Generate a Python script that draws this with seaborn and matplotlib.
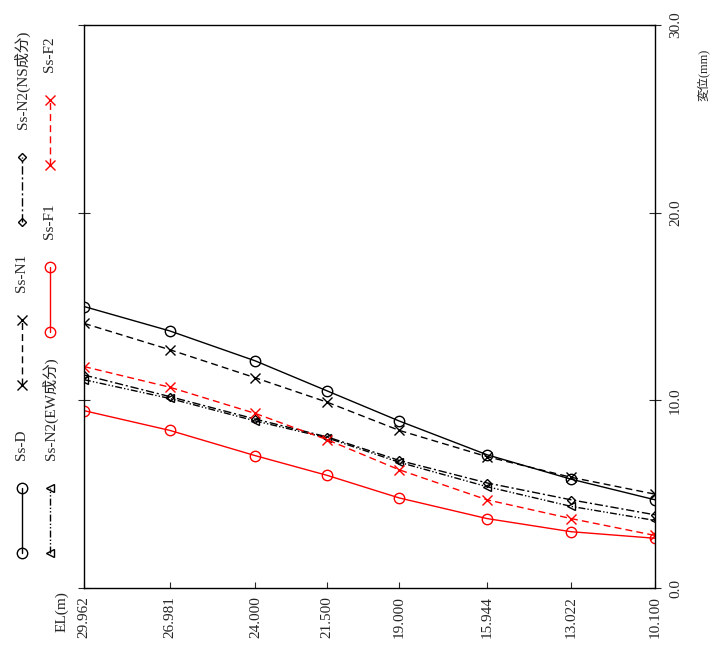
import numpy as np
import pandas as pd
import matplotlib
matplotlib.use("Agg")
import matplotlib.pyplot as plt
import seaborn as sns

# ---- data ----
el = [29.962, 26.981, 24.000, 21.500, 19.000, 15.944, 13.022, 10.100]
el_labels = ["29.962", "26.981", "24.000", "21.500", "19.000", "15.944", "13.022", "10.100"]

ss_d = [15.0, 13.7, 12.1, 10.5, 8.9, 7.1, 5.8, 4.7]
ss_n1 = [14.1, 12.7, 11.2, 9.9, 8.4, 7.0, 5.9, 5.0]
ss_n2_ns = [11.35, 10.2, 9.0, 8.05, 6.8, 5.6, 4.7, 3.9]
ss_n2_ew = [11.1, 10.1, 8.9, 8.0, 6.7, 5.4, 4.35, 3.6]
ss_f1 = [9.45, 8.4, 7.05, 6.0, 4.8, 3.7, 3.0, 2.65]
ss_f2 = [11.8, 10.7, 9.3, 7.9, 6.3, 4.7, 3.7, 2.8]

disp_ticks = [0, 10, 20, 30]
disp_labels = ["0.0", "10.0", "20.0", "30.0"]

# ---- styles ----
series = [
    ("Ss-D", ss_d, "black", "-", "o", 7.5),
    ("Ss-N1", ss_n1, "black", (0, (5, 3)), "x", 6.5),
    ("Ss-N2(NS成分)", ss_n2_ns, "black", (0, (6, 2, 1.5, 2)), "D", 4.5),
    ("Ss-N2(EW成分)", ss_n2_ew, "black", (0, (5, 1.5, 1, 1.5, 1, 1.5)), "<", 5.5),
    ("Ss-F1", ss_f1, "red", "-", "o", 7.5),
    ("Ss-F2", ss_f2, "red", (0, (5, 3)), "x", 6.5),
]

sns.set_style("white")
plt.rcParams["font.family"] = ["Liberation Serif", "Noto Sans CJK JP"]
plt.rcParams["axes.unicode_minus"] = False

W, H = 713, 648
fig = plt.figure(figsize=(W / 100, H / 100), dpi=100)
ax = fig.add_axes([84 / W, 1 - 588 / H, (655 - 84) / W, (588 - 25) / H])

for name, vals, col, ls, mk, ms in series:
    df = pd.DataFrame({"el": el, "disp": vals})
    sns.lineplot(data=df, x="el", y="disp", ax=ax, color=col, linestyle=ls,
                 linewidth=1.0, marker=mk, markersize=ms,
                 markerfacecolor="none", markeredgecolor=col,
                 markeredgewidth=1.0, sort=False, legend=False)

ax.set_xlim(29.962, 10.100)
ax.set_ylim(0, 30)
ax.set_xlabel("")
ax.set_ylabel("")

for s in ax.spines.values():
    s.set_color("black")
    s.set_linewidth(1.0)
    s.set_visible(True)

ax.set_xticks(el)
ax.set_xticklabels(el_labels, rotation=90, fontsize=11)
ax.tick_params(axis="x", direction="in", length=4, width=0.8, pad=6, bottom=True, top=False)

ax.set_yticks(disp_ticks)
ax.set_yticklabels(disp_labels, rotation=90, fontsize=11)
ax.tick_params(axis="y", direction="inout", length=8, width=0.8, left=True, right=True,
               labelleft=False, labelright=True, pad=6)
for lab in ax.get_yticklabels():
    lab.set_verticalalignment("center")

fig.text(62 / W, 1 - 612 / H, "EL(m)", rotation=90, ha="center", va="center", fontsize=11)
fig.text(703 / W, 1 - 75 / H, "変位(mm)", rotation=90, ha="center", va="center", fontsize=9)

# ---- rotated legend (drawn in pixel space of a side axes) ----
lax = fig.add_axes([0, 0, 84 / W, 1])
lax.set_xlim(0, 84)
lax.set_ylim(H, 0)
lax.axis("off")

# (x column, bottom marker y) for each entry
legend_pos = [(22, 553), (22, 385), (22, 222), (50, 553), (50, 332), (50, 165)]
for (name, vals, col, ls, mk, ms), (lx, ly) in zip(series, legend_pos):
    lax.plot([lx, lx], [ly, ly - 65], color=col, linestyle=ls, linewidth=1.0,
             marker=mk, markersize=ms, markerfacecolor="none",
             markeredgecolor=col, markeredgewidth=1.0)
    lax.text(lx, ly - 65 - 28, name, rotation=90, rotation_mode="anchor",
             ha="left", va="center", fontsize=11)

fig.savefig("out.png", dpi=100)
